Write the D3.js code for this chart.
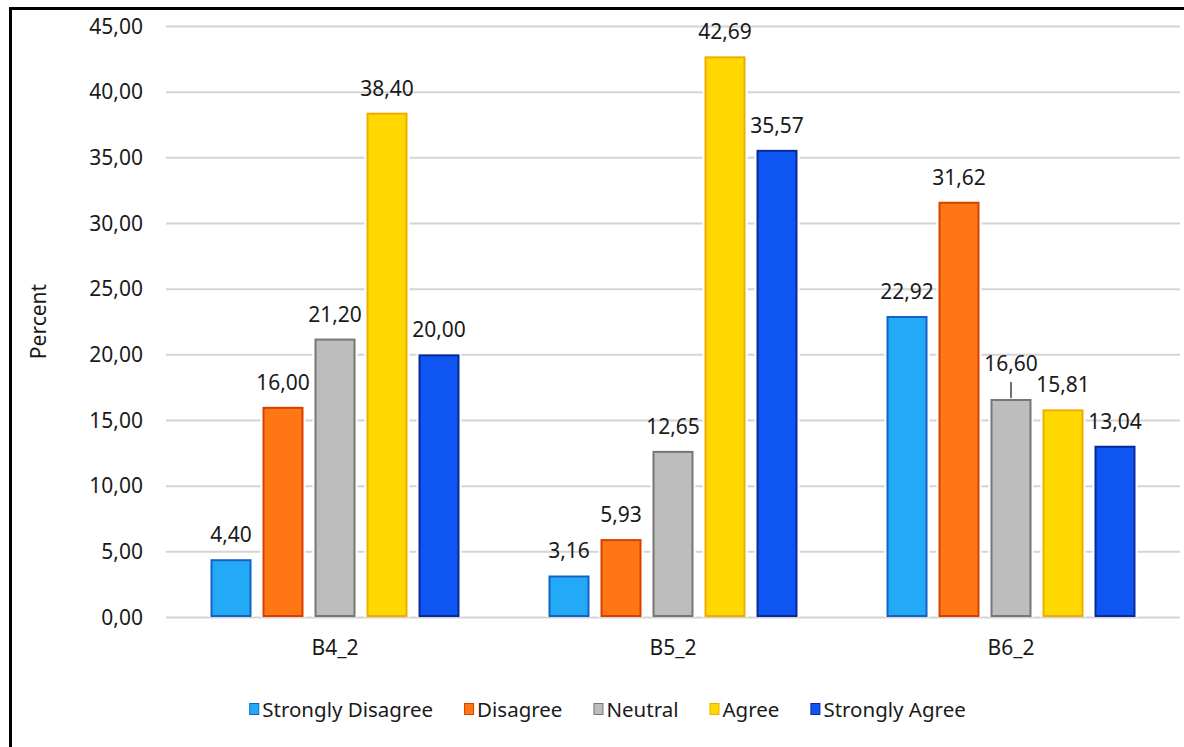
<!DOCTYPE html>
<html>
<head>
<meta charset="utf-8">
<script src="https://cdn.jsdelivr.net/npm/d3@7/dist/d3.min.js"></script>
<style>
  html, body { margin: 0; padding: 0; background: #fff; }
  svg { display: block; }
  text { font-family: "Noto Sans", "Open Sans", sans-serif; fill: #1a1a1a; }
</style>
</head>
<body>
<svg id="chart" width="1184" height="747"></svg>
<script>
// Survey items and response categories
const categories = ["B4_2", "B5_2", "B6_2"];
const seriesNames = ["Strongly Disagree", "Disagree", "Neutral", "Agree", "Strongly Agree"];

// Percent of respondents per item
const stronglyDisagree = [4.40, 3.16, 22.92];
const disagree         = [16.00, 5.93, 31.62];
const neutral          = [21.20, 12.65, 16.60];
const agree            = [38.40, 42.69, 15.81];
const stronglyAgree    = [20.00, 35.57, 13.04];

const yTickValues = [0, 5, 10, 15, 20, 25, 30, 35, 40, 45];
const yTitle = "Percent";

const seriesValues = [stronglyDisagree, disagree, neutral, agree, stronglyAgree];
const fills   = ["#22aaf6", "#ff7614", "#bdbdbd", "#ffd800", "#0e55f2"];
const strokes = ["#1562c4", "#d94000", "#767676", "#f0ad00", "#0a2a9c"];

const rows = categories.map((c, i) => ({
  category: c,
  values: seriesNames.map((s, j) => ({ series: s, idx: j, category: c, value: seriesValues[j][i] }))
}));

const fmt = d3.formatLocale({ decimal: ",", thousands: ".", grouping: [3], currency: ["", ""] }).format(".2f");

const svg = d3.select("#chart");

// outer frame of the figure
svg.append("rect")
  .attr("x", 10.5).attr("y", 8.5)
  .attr("width", 1300).attr("height", 900)
  .attr("fill", "none").attr("stroke", "#000").attr("stroke-width", 3);

const plot = { left: 166, right: 1180, top: 26, bottom: 617 };

const y = d3.scaleLinear().domain([0, 45]).range([plot.bottom, plot.top]);
const x0 = d3.scaleBand().domain(categories).range([plot.left, plot.right]).padding(0);
const groupWidth = 249;
const x1 = d3.scaleBand().domain(seriesNames)
  .range([(x0.bandwidth() - groupWidth) / 2, (x0.bandwidth() + groupWidth) / 2])
  .paddingInner(11 / 52).paddingOuter(0);

// horizontal gridlines
const yAxis = d3.axisLeft(y).tickValues(yTickValues).tickSize(-(plot.right - plot.left)).tickFormat("");
svg.append("g")
  .attr("transform", `translate(${plot.left},0)`)
  .call(yAxis)
  .call(g => g.select(".domain").remove())
  .call(g => g.selectAll(".tick line").attr("stroke", "#d4d4d4").attr("stroke-width", 2));

// y tick labels
svg.append("g").selectAll("text")
  .data(yTickValues)
  .join("text")
  .attr("x", 143)
  .attr("y", d => y(d) + 7.5)
  .attr("text-anchor", "end")
  .attr("font-size", 21)
  .text(d => fmt(d));

// y axis title
svg.append("text")
  .attr("transform", `translate(46,${(plot.top + plot.bottom) / 2}) rotate(-90)`)
  .attr("text-anchor", "middle")
  .attr("font-size", 21)
  .text(yTitle);

// bars
const groups = svg.append("g").selectAll("g")
  .data(rows)
  .join("g")
  .attr("transform", d => `translate(${x0(d.category)},0)`);

groups.selectAll("rect.halo")
  .data(d => d.values)
  .join("rect")
  .attr("class", "halo")
  .attr("x", d => x1(d.series) - 2)
  .attr("y", d => y(d.value) - 2)
  .attr("width", x1.bandwidth() + 4)
  .attr("height", d => y(0) - y(d.value) + 2)
  .attr("fill", "#fff");

groups.selectAll("rect.bar")
  .data(d => d.values)
  .join("rect")
  .attr("class", "bar")
  .attr("x", d => x1(d.series) + 1)
  .attr("y", d => y(d.value) + 1)
  .attr("width", x1.bandwidth() - 2)
  .attr("height", d => y(0) - y(d.value) - 2)
  .attr("fill", d => fills[d.idx])
  .attr("stroke", d => strokes[d.idx])
  .attr("stroke-width", 2);

// value labels; one label is lifted with a leader line to clear its neighbour
const lifted = { "B6_2|Neutral": 11 };
const labelGap = 17;
groups.each(function (row) {
  const g = d3.select(this);
  row.values.forEach(d => {
    const cx = x1(d.series) + x1.bandwidth() / 2;
    const top = y(d.value);
    const lift = lifted[d.category + "|" + d.series] || 0;
    g.append("text")
      .attr("x", cx)
      .attr("y", top - labelGap - lift)
      .attr("text-anchor", "middle")
      .attr("font-size", 21)
      .text(fmt(d.value));
    if (lift) {
      g.append("line")
        .attr("x1", cx).attr("x2", cx)
        .attr("y1", top - labelGap).attr("y2", top - 1)
        .attr("stroke", "#404040").attr("stroke-width", 1.5);
    }
  });
});

// category labels
svg.append("g").selectAll("text")
  .data(categories)
  .join("text")
  .attr("x", d => x0(d) + x0.bandwidth() / 2)
  .attr("y", 655)
  .attr("text-anchor", "middle")
  .attr("font-size", 21)
  .text(d => d);

// legend, centred under the figure
const legend = svg.append("g");
const items = legend.selectAll("g")
  .data(seriesNames)
  .join("g");
items.append("rect")
  .attr("x", 0.5).attr("y", 703.5)
  .attr("width", 9).attr("height", 11)
  .attr("fill", (d, i) => fills[i])
  .attr("stroke", (d, i) => strokes[i])
  .attr("stroke-width", 1);
items.append("text")
  .attr("x", 13).attr("y", 716.5)
  .attr("font-size", 20.5)
  .text(d => d);
let cursor = 0;
items.each(function () {
  const w = d3.select(this).select("text").node().getComputedTextLength() + 13;
  d3.select(this).attr("data-x", cursor);
  cursor += w + 31;
});
const totalW = cursor - 31;
const startX = 607.5 - totalW / 2;
items.attr("transform", function () { return `translate(${startX + (+this.getAttribute("data-x"))},0)`; });
</script>
</body>
</html>
